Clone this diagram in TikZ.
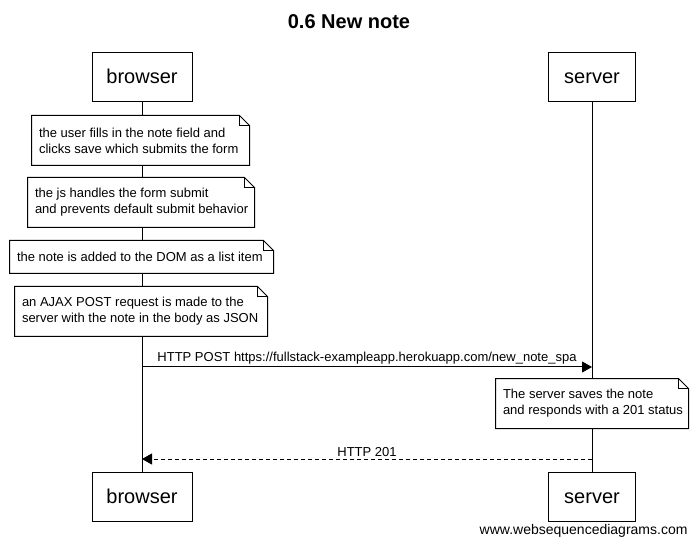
\documentclass[tikz,border=0pt]{standalone}
\usepackage{fontspec}
\setmainfont{Liberation Sans}
\usetikzlibrary{positioning,calc,arrows.meta}

\tikzset{
    actor/.style={draw, fill=white, minimum width=100pt, minimum height=49pt, inner sep=0pt, text height=14.5pt, text depth=1.5pt, font=\fontsize{20}{24}\selectfont},
    notebox/.style={fill=white, inner sep=0pt},
    notetext/.style={anchor=west, align=left, inner sep=0pt, font=\fontsize{13}{16}\selectfont},
    msg/.style={-{Triangle[length=10pt,width=11pt]}},
    reply/.style={msg, dash pattern=on 4pt off 3pt},
    msglabel/.style={font=\fontsize{13}{15}\selectfont, above=1pt, inner sep=1pt}
}

\begin{document}
\begin{tikzpicture}[x=1pt,y=-1pt,line width=1pt]
    \useasboundingbox (0,0) rectangle (699,545);

    % Title
    \node[font=\fontsize{20}{24}\bfseries] (title) at (349,22) {0.6 New note};

    % Participants
    \node[actor] (browser) at (142,77.5) {browser};
    \node[actor, minimum width=87pt] (server) at (592,77.5) {server};
    \node[actor] (browserB) at (142,496.5) {browser};
    \node[actor, minimum width=87pt] (serverB) at (592,496.5) {server};

    % Lifelines
    \draw (browser) -- (browserB);
    \draw (server) -- (serverB);

    % Notes
    \foreach \n/\cx/\cy/\w/\h/\txt in {
        noteA/140.5/140.5/217/49/{the user fills in the note field and\\clicks save which submits the form},
        noteB/141/202.5/226/49/{the js handles the form submit\\and prevents default submit behavior},
        noteC/141.5/257/263/32/{the note is added to the DOM as a list item},
        noteD/141/311.5/252/49/{an AJAX POST request is made to the\\server with the note in the body as JSON},
        noteE/592/403.5/192/49/{The server saves the note\\and responds with a 201 status}} {
        \node[notebox, minimum width=\w pt, minimum height=\h pt] (\n) at (\cx,\cy) {};
        \draw (\n.north west) -- ($(\n.north east)+(-10,0)$) -- ($(\n.north east)+(0,10)$)
            -- (\n.south east) -- (\n.south west) -- cycle;
        \draw ($(\n.north east)+(-10,0)$) |- ($(\n.north east)+(0,10)$);
        \node[notetext] (\n text) at ($(\n.west)+(7,0)$) {\txt};
    }

    % Messages
    \coordinate (postFrom) at (browser |- 0,367);
    \coordinate (postTo) at (server |- 0,367);
    \draw[msg] (postFrom) -- node[msglabel] {HTTP POST https://fullstack-exampleapp.herokuapp.com/new\_note\_spa} (postTo);

    \coordinate (okFrom) at (server |- 0,459);
    \coordinate (okTo) at (browser |- 0,459);
    \draw[reply] (okFrom) -- node[msglabel] {HTTP 201} (okTo);

    % Watermark
    \node[anchor=east, font=\fontsize{14}{16}\selectfont, inner sep=0pt] (mark) at (688,531) {www.websequencediagrams.com};
\end{tikzpicture}
\end{document}
